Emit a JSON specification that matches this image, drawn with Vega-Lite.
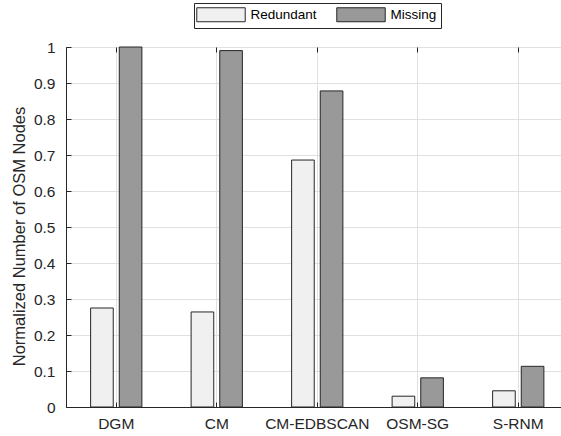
{
  "$schema": "https://vega.github.io/schema/vega-lite/v6.json",
  "width": 502.5,
  "height": 360,
  "autosize": {"type": "none"},
  "padding": {"left": 66, "top": 47, "right": 0, "bottom": 29},
  "background": "white",
  "config": {
    "font": "Liberation Sans",
    "view": {"stroke": "#262626", "strokeWidth": 1},
    "axis": {
      "labelColor": "#262626",
      "titleColor": "#262626",
      "domainColor": "#262626",
      "tickColor": "#262626",
      "gridColor": "#e0e0e0",
      "labelFontSize": 15.5,
      "labelFont": "Liberation Sans",
      "titleFont": "Liberation Sans",
      "titleFontWeight": "normal"
    }
  },
  "data": {
    "values": [
      {"method": "DGM", "type": "Redundant", "value": 0.275},
      {"method": "DGM", "type": "Missing", "value": 1.0},
      {"method": "CM", "type": "Redundant", "value": 0.264},
      {"method": "CM", "type": "Missing", "value": 0.99},
      {"method": "CM-EDBSCAN", "type": "Redundant", "value": 0.686},
      {"method": "CM-EDBSCAN", "type": "Missing", "value": 0.878},
      {"method": "OSM-SG", "type": "Redundant", "value": 0.03},
      {"method": "OSM-SG", "type": "Missing", "value": 0.081},
      {"method": "S-RNM", "type": "Redundant", "value": 0.045},
      {"method": "S-RNM", "type": "Missing", "value": 0.113}
    ]
  },
  "layer": [
    {
      "mark": {"type": "bar", "stroke": "#262626", "strokeWidth": 1},
      "encoding": {
        "x": {
          "field": "method",
          "type": "nominal",
          "sort": null,
          "scale": {"paddingInner": 0.49, "paddingOuter": 0.245},
          "axis": {
            "title": null,
            "labelAngle": 0,
            "tickSize": -5,
            "labelPadding": 14,
            "grid": true,
            "bandPosition": 0.5,
            "domain": true
          }
        },
        "xOffset": {
          "field": "type",
          "type": "nominal",
          "scale": {"domain": ["Redundant", "Missing"], "paddingInner": 0.21}
        },
        "y": {
          "field": "value",
          "type": "quantitative",
          "scale": {"domain": [0, 1], "nice": false},
          "axis": {
            "title": "Normalized Number of OSM Nodes",
            "values": [0, 0.1, 0.2, 0.3, 0.4, 0.5, 0.6, 0.7, 0.8, 0.9, 1],
            "format": ".1~f",
            "tickSize": -5,
            "labelPadding": 16,
            "grid": true,
            "titleFontSize": 16.5,
            "titleX": -47,
            "titleY": 189,
            "titleBaseline": "middle",
            "titleAlign": "center",
            "titleAngle": -90
          }
        },
        "color": {
          "field": "type",
          "type": "nominal",
          "scale": {"domain": ["Redundant", "Missing"], "range": ["#f0f0f0", "#999999"]},
          "legend": {
            "title": null,
            "orient": "none",
            "legendX": 128,
            "legendY": -44,
            "direction": "horizontal",
            "symbolType": "M-3.46,-1L3.46,-1L3.46,1L-3.46,1Z",
            "symbolSize": 196,
            "symbolOffset": 15.5,
            "symbolStrokeColor": "#262626",
            "symbolStrokeWidth": 1,
            "symbolOpacity": 1,
            "labelFontSize": 13.5,
            "labelColor": "#000000",
            "strokeColor": "#262626",
            "fillColor": "white",
            "padding": 4,
            "labelOffset": 22,
            "columnPadding": 17
          }
        }
      }
    },
    {
      "mark": {"type": "rule", "opacity": 0},
      "encoding": {
        "x": {
          "field": "method",
          "type": "nominal",
          "sort": null,
          "axis": {
            "orient": "top",
            "title": null,
            "labels": false,
            "tickSize": -5,
            "grid": false,
            "domain": false,
            "bandPosition": 0.5
          }
        }
      }
    }
  ],
  "resolve": {"axis": {"x": "independent"}}
}
